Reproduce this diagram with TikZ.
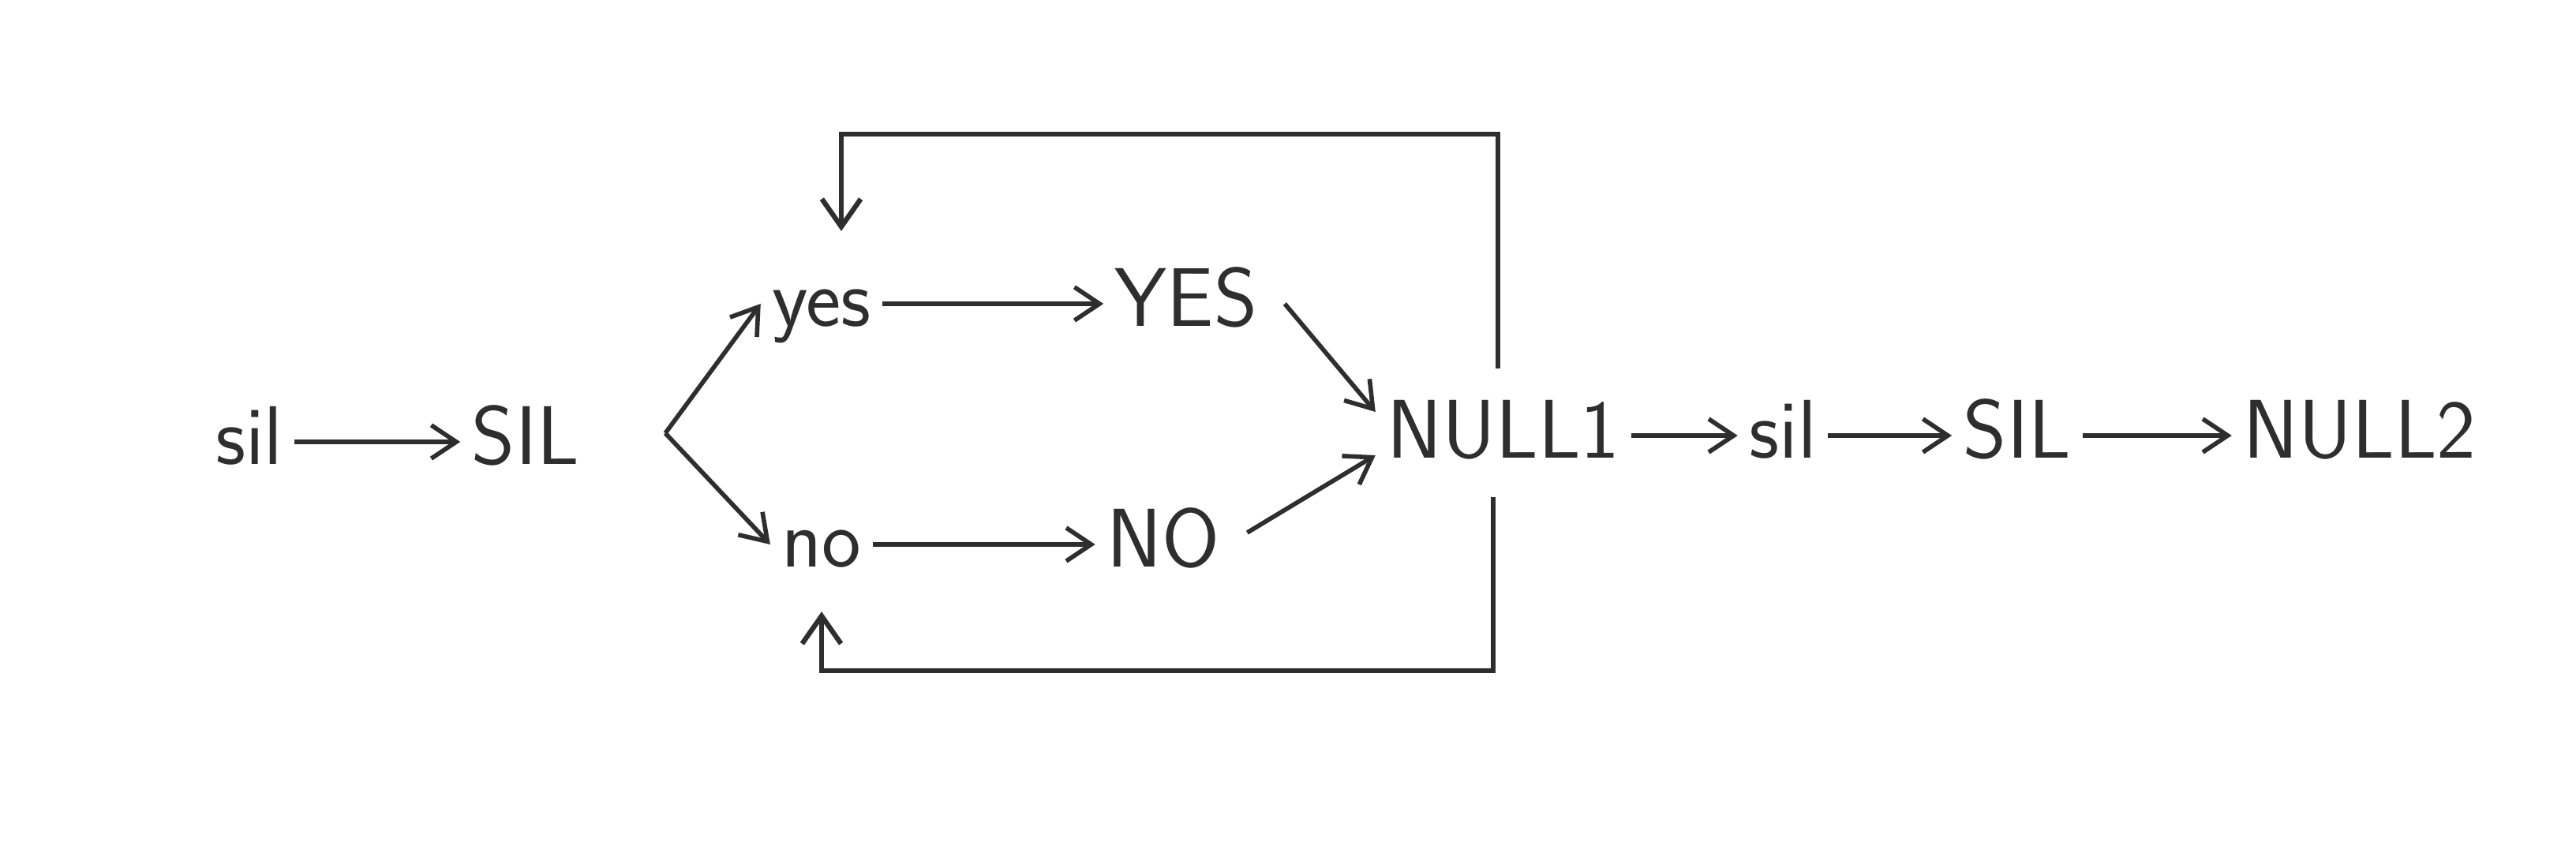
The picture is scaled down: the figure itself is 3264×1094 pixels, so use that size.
\documentclass[tikz,border=0pt]{standalone}
\usetikzlibrary{arrows.meta,calc}
\definecolor{ink}{HTML}{2E2E2E}
\begin{document}
\begin{tikzpicture}[x=0.01cm,y=-0.01cm,
  lbl/.style={text=ink,font=\sffamily\fontsize{30}{36}\selectfont,inner sep=4pt,text height=22pt,text depth=6pt,anchor=center},
  conn/.style={draw=ink,line width=1.6pt,-{Straight Barb[length=9pt,width=12pt,line width=1.6pt]}},
  loopline/.style={draw=ink,line width=1.8pt,-{Straight Barb[length=10pt,width=14pt,line width=1.8pt]}}]
\useasboundingbox[fill=white] (0,0) rectangle (3264,1094);
% left chain
\node[lbl] (sil1) at (316,560) {sil};
\node[lbl] (SIL1) at (666,560) {SIL};
% branches
\node[lbl] (yes) at (1041,385) {yes};
\node[lbl] (YES) at (1503,385) {YES};
\node[lbl] (no) at (1041,690) {no};
\node[lbl] (NO) at (1474,690) {NO};
% right chain
\node[lbl] (NULL1) at (1905,552) {NULL1};
\node[lbl] (sil2) at (2259,552) {sil};
\node[lbl] (SIL2) at (2556,552) {SIL};
\node[lbl] (NULL2) at (2990,552) {NULL2};
% bracket point
\coordinate (br) at (843,549);
% coordinates for loops
\coordinate (topR) at (1898,170);
\coordinate (botR) at (1892,850);
% chain arrows
\draw[conn] (sil1) -- (SIL1);
\draw[conn] (yes) -- (YES);
\draw[conn] (no) -- (NO);
\draw[conn] (NULL1) -- (sil2);
\draw[conn] (sil2) -- (SIL2);
\draw[conn] (SIL2) -- (NULL2);
% bracket
\draw[conn] (br) -- (yes.west);
\draw[conn] (br) -- (no.west);
% diagonals into NULL1
\draw[conn] ($(YES.east)+(20,0)$) -- ($(NULL1.west)+(0,-30)$);
\draw[conn] ($(NO.east)+(20,-15)$) -- ($(NULL1.west)+(0,25)$);
% loops
\draw[loopline,shorten >=8pt,shorten <=6pt] (NULL1.north -| topR) -- (topR) -| ($(yes.north)+(25,0)$);
\draw[loopline,shorten >=6pt,shorten <=4pt] (NULL1.south -| botR) -- (botR) -| (no.south);
\end{tikzpicture}
\end{document}
